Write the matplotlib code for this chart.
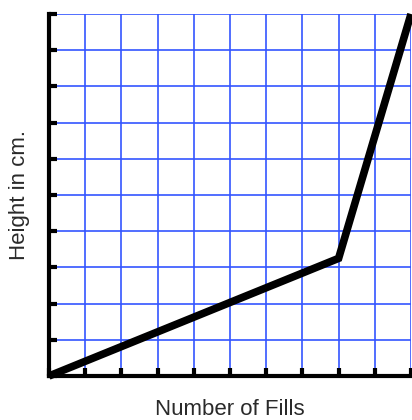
import matplotlib
matplotlib.use("Agg")
import matplotlib.pyplot as plt

# data
fills = [0, 8, 10]
height = [0, 3.25, 10]
grid_ticks = list(range(0, 11))

fig = plt.figure(figsize=(4.12, 4.2), dpi=100)
ax = fig.add_axes([49 / 412, 44 / 420, 362 / 412, 362 / 420])

ax.set_xlim(0, 10)
ax.set_ylim(0, 10)
ax.set_xticks(grid_ticks)
ax.set_yticks(grid_ticks)
ax.set_xticklabels([])
ax.set_yticklabels([])

ax.grid(True, color="#3355ff", linewidth=1.2)
ax.set_axisbelow(True)

ax.plot(fills, height, color="black", linewidth=5.5, solid_capstyle="butt",
        solid_joinstyle="miter", clip_on=False, zorder=5)

for side in ["top", "right"]:
    ax.spines[side].set_visible(False)
for side in ["left", "bottom"]:
    ax.spines[side].set_linewidth(3)
    ax.spines[side].set_zorder(6)

ax.tick_params(direction="in", length=6, width=3, color="black")

ax.set_xlabel("Number of Fills", fontsize=16, family="Liberation Sans",
              color="#2a2a2a", labelpad=13)
ax.set_ylabel("Height in cm.", fontsize=16, family="Liberation Sans",
              color="#2a2a2a", labelpad=10)

fig.savefig("out.png", dpi=100)
